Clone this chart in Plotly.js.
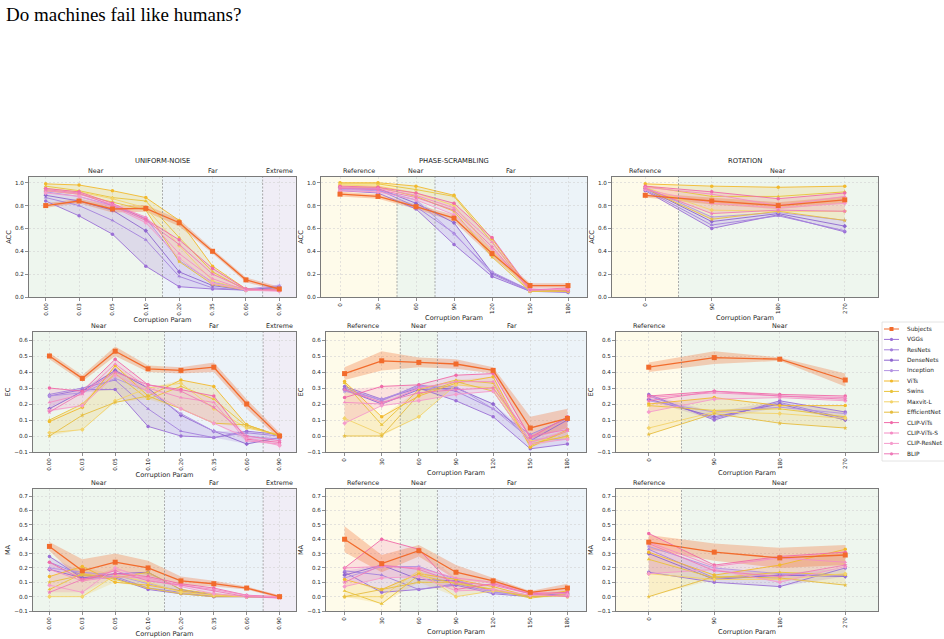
<!DOCTYPE html>
<html><head><meta charset="utf-8">
<script src="https://cdn.plot.ly/plotly-3.0.1.min.js"></script>
<style>html,body{margin:0;padding:0;background:#fff}#chart{width:944px;height:639px}</style>
</head><body><div id="chart"></div>
<script>
// ---------------- DATA ----------------
const models = ['Subjects','VGGs','ResNets','DenseNets','Inception','ViTs','Swins','Maxvit-L','EfficientNet','CLIP-ViTs','CLIP-ViTs-S','CLIP-ResNet','BLIP'];
const modelFamily = ['human','cnn','cnn','cnn','cnn','tr','tr','tr','tr','clip','clip','clip','clip'];

const noiseLevels = ['0.00','0.03','0.05','0.10','0.20','0.35','0.60','0.90'];
const phaseLevels = ['0','30','60','90','120','150','180'];
const rotationLevels = ['0','90','180','270'];

const noiseRegionNames = ['Near','Far','Extreme'];
const noiseRegionCounts = [4,3,1];
const phaseRegionNames = ['Reference','Near','Far'];
const phaseRegionCounts = [2,1,4];
const rotationRegionNames = ['Reference','Near'];
const rotationRegionCounts = [1,3];

// rows follow the order of `models`
const noiseACC = [
 [0.80,0.84,0.77,0.775,0.65,0.40,0.15,0.07],
 [0.84,0.71,0.55,0.27,0.09,0.07,0.06,0.07],
 [0.87,0.80,0.67,0.50,0.18,0.08,0.06,0.08],
 [0.89,0.84,0.76,0.58,0.22,0.10,0.06,0.09],
 [0.92,0.88,0.80,0.69,0.32,0.13,0.07,0.10],
 [0.99,0.98,0.93,0.87,0.67,0.27,0.07,0.06],
 [0.97,0.93,0.87,0.84,0.52,0.22,0.06,0.06],
 [0.95,0.92,0.86,0.78,0.45,0.14,0.06,0.06],
 [0.93,0.90,0.83,0.76,0.31,0.11,0.06,0.07],
 [0.95,0.92,0.82,0.68,0.50,0.25,0.07,0.06],
 [0.93,0.90,0.81,0.70,0.38,0.16,0.06,0.06],
 [0.91,0.88,0.79,0.65,0.34,0.12,0.06,0.05],
 [0.94,0.91,0.80,0.67,0.46,0.20,0.07,0.06]
];
const phaseACC = [
 [0.90,0.88,0.79,0.69,0.38,0.10,0.10],
 [0.93,0.91,0.77,0.46,0.18,0.05,0.04],
 [0.95,0.94,0.79,0.56,0.20,0.05,0.05],
 [0.96,0.95,0.82,0.65,0.21,0.06,0.05],
 [0.94,0.93,0.85,0.55,0.22,0.06,0.06],
 [1.00,1.00,0.97,0.89,0.51,0.06,0.07],
 [0.99,0.99,0.94,0.88,0.48,0.05,0.06],
 [0.98,0.97,0.91,0.80,0.40,0.05,0.05],
 [0.96,0.96,0.88,0.75,0.35,0.05,0.05],
 [0.97,0.96,0.91,0.82,0.52,0.07,0.06],
 [0.96,0.95,0.89,0.78,0.48,0.06,0.07],
 [0.93,0.92,0.85,0.72,0.42,0.06,0.07],
 [0.95,0.94,0.87,0.76,0.44,0.06,0.08]
];
const rotationACC = [
 [0.89,0.84,0.80,0.85],
 [0.93,0.60,0.72,0.57],
 [0.94,0.63,0.71,0.58],
 [0.95,0.66,0.73,0.62],
 [0.96,0.70,0.74,0.67],
 [0.99,0.97,0.96,0.97],
 [0.97,0.88,0.88,0.92],
 [0.96,0.76,0.75,0.75],
 [0.95,0.68,0.75,0.67],
 [0.97,0.92,0.86,0.91],
 [0.96,0.90,0.80,0.88],
 [0.94,0.82,0.78,0.82],
 [0.95,0.73,0.76,0.75]
];
const noiseEC = [
 [0.50,0.36,0.53,0.42,0.41,0.43,0.20,0.00],
 [0.25,0.29,0.29,0.06,0.00,-0.01,0.03,0.01],
 [0.26,0.30,0.35,0.17,0.03,-0.01,0.02,0.00],
 [0.17,0.28,0.41,0.30,0.13,0.03,-0.05,-0.01],
 [0.25,0.27,0.36,0.28,0.14,0.03,0.00,-0.02],
 [0.09,0.18,0.44,0.25,0.35,0.31,0.07,0.00],
 [0.10,0.20,0.39,0.23,0.31,0.23,0.06,0.00],
 [0.02,0.04,0.22,0.30,0.33,0.17,0.05,0.01],
 [0.00,0.13,0.21,0.25,0.17,0.08,0.07,0.00],
 [0.30,0.28,0.48,0.32,0.29,0.25,-0.02,-0.04],
 [0.21,0.26,0.45,0.30,0.24,0.21,-0.03,-0.05],
 [0.16,0.19,0.38,0.28,0.17,0.08,-0.01,-0.06],
 [0.15,0.27,0.40,0.32,0.28,0.18,0.00,-0.03]
];
const phaseEC = [
 [0.39,0.47,0.46,0.45,0.41,0.05,0.11],
 [0.31,0.23,0.30,0.22,0.12,-0.08,-0.05],
 [0.30,0.22,0.32,0.28,0.17,0.01,0.11],
 [0.29,0.20,0.29,0.30,0.20,-0.03,0.10],
 [0.28,0.23,0.31,0.31,0.17,-0.02,-0.02],
 [0.34,0.12,0.25,0.33,0.37,-0.07,0.04],
 [0.33,0.07,0.29,0.35,0.33,-0.06,0.03],
 [0.11,0.01,0.12,0.32,0.30,-0.03,-0.01],
 [0.00,0.00,0.26,0.34,0.28,-0.05,0.00],
 [0.24,0.31,0.32,0.38,0.39,-0.01,0.12],
 [0.21,0.20,0.30,0.34,0.34,-0.04,0.03],
 [0.08,0.19,0.22,0.26,0.28,-0.05,-0.02],
 [0.29,0.21,0.27,0.29,0.30,0.00,0.04]
];
const rotationEC = [
 [0.43,0.49,0.48,0.35],
 [0.26,0.10,0.22,0.15],
 [0.25,0.11,0.21,0.11],
 [0.23,0.12,0.20,0.10],
 [0.22,0.15,0.18,0.14],
 [0.20,0.24,0.19,0.19],
 [0.19,0.16,0.17,0.12],
 [0.05,0.15,0.14,0.11],
 [0.01,0.14,0.08,0.05],
 [0.25,0.28,0.26,0.25],
 [0.24,0.27,0.25,0.24],
 [0.15,0.23,0.24,0.22],
 [0.22,0.28,0.25,0.23]
];
const noiseMA = [
 [0.35,0.18,0.24,0.20,0.11,0.09,0.06,0.00],
 [0.28,0.13,0.13,0.05,0.02,0.00,0.00,0.00],
 [0.24,0.15,0.14,0.06,0.03,0.00,0.00,0.00],
 [0.19,0.13,0.16,0.17,0.05,0.01,0.00,0.00],
 [0.20,0.17,0.15,0.09,0.04,0.01,0.00,0.00],
 [0.14,0.21,0.10,0.08,0.04,0.01,0.00,0.00],
 [0.05,0.16,0.12,0.06,0.02,0.00,0.00,0.00],
 [0.00,0.00,0.15,0.10,0.03,0.01,0.00,0.00],
 [0.10,0.15,0.13,0.17,0.05,0.02,0.00,0.00],
 [0.24,0.12,0.16,0.14,0.09,0.06,0.01,0.00],
 [0.19,0.11,0.14,0.13,0.08,0.05,0.01,-0.01],
 [0.08,0.03,0.20,0.12,0.07,0.02,0.00,0.00],
 [0.03,0.12,0.18,0.11,0.08,0.04,0.00,-0.01]
];
const phaseMA = [
 [0.40,0.23,0.32,0.17,0.11,0.03,0.06],
 [0.17,0.03,0.05,0.08,0.02,0.00,0.01],
 [0.18,0.15,0.05,0.09,0.03,0.01,0.02],
 [0.15,0.22,0.12,0.11,0.04,0.01,0.02],
 [0.13,0.21,0.21,0.12,0.03,0.01,0.03],
 [0.12,0.05,0.16,0.12,0.07,0.00,0.04],
 [0.04,-0.05,0.15,0.09,0.05,-0.01,0.02],
 [0.00,0.00,0.18,0.00,0.04,0.01,0.00],
 [0.00,0.05,0.10,0.10,0.05,0.00,0.01],
 [0.20,0.40,0.33,0.05,0.09,0.02,0.03],
 [0.20,0.21,0.20,0.13,0.10,0.03,0.02],
 [0.07,0.13,0.14,0.04,0.05,0.01,0.01],
 [0.10,0.22,0.19,0.10,0.08,0.02,0.00]
];
const rotationMA = [
 [0.38,0.31,0.27,0.29],
 [0.17,0.10,0.07,0.20],
 [0.33,0.13,0.15,0.15],
 [0.30,0.12,0.15,0.14],
 [0.35,0.20,0.16,0.15],
 [0.31,0.15,0.22,0.33],
 [0.26,0.13,0.17,0.15],
 [0.16,0.12,0.12,0.16],
 [0.00,0.14,0.13,0.08],
 [0.44,0.22,0.28,0.31],
 [0.38,0.21,0.27,0.24],
 [0.16,0.19,0.10,0.21],
 [0.37,0.18,0.14,0.22]
];
// spread (half width) of the human subjects band
const noiseACCSpread = [0.02,0.02,0.03,0.03,0.03,0.02,0.02,0.02];
const phaseACCSpread = [0.02,0.02,0.02,0.03,0.03,0.02,0.02];
const rotationACCSpread = [0.02,0.03,0.03,0.03];
const noiseECSpread = [0.02,0.02,0.03,0.02,0.02,0.03,0.03,0.02];
const phaseECSpread = [0.04,0.06,0.03,0.03,0.02,0.07,0.06];
const rotationECSpread = [0.03,0.04,0.01,0.04];
const noiseMASpread = [0.03,0.08,0.06,0.05,0.03,0.02,0.01,0.01];
const phaseMASpread = [0.09,0.06,0.04,0.05,0.02,0.01,0.03];
const rotationMASpread = [0.05,0.06,0.07,0.07];

// ---------------- STYLE ----------------
const modelColors = ['#f26b2c','#9b6fd6','#a481dc','#8e66cf','#b393e3','#f2b92c','#e9c33a','#f3d36a','#e6bd3f','#f06aa8','#f48cc4','#f59bcc','#ee7ab8'];
const modelSymbols = ['square','circle','triangle-up','diamond','star','circle','triangle-up','diamond','star','circle','triangle-up','diamond','star'];
const familyFill = {cnn:'rgba(155,111,214,0.20)', tr:'rgba(234,190,50,0.18)', clip:'rgba(240,110,170,0.18)'};
const humanFill = 'rgba(242,107,44,0.30)';
const regionColors = {Reference:'#fefbea', Near:'#eef6ee', Far:'#ecf3f8', Extreme:'#f0edf6'};

const W = 944, H = 639;
const rowsPx = [[177,297],[332,452],[489,611]];
const colsPx = [
 [[29,296],[321,587],[612,878]],
 [[33,296],[326,586],[616,878]],
 [[33,296],[326,586],[616,878]]
];
const yRanges = {ACC:[0,1.05], EC:[-0.1,0.65], MA:[-0.1,0.75]};
const yDtick = {ACC:0.2, EC:0.1, MA:0.1};
const colTitles = ['UNIFORM-NOISE','PHASE-SCRAMBLING','ROTATION'];
const colLevels = [noiseLevels, phaseLevels, rotationLevels];
const colRegionNames = [noiseRegionNames, phaseRegionNames, rotationRegionNames];
const colRegionCounts = [noiseRegionCounts, phaseRegionCounts, rotationRegionCounts];
const metrics = ['ACC','EC','MA'];
const grid = [
 [noiseACC, phaseACC, rotationACC],
 [noiseEC, phaseEC, rotationEC],
 [noiseMA, phaseMA, rotationMA]
];
const spreads = [
 [noiseACCSpread, phaseACCSpread, rotationACCSpread],
 [noiseECSpread, phaseECSpread, rotationECSpread],
 [noiseMASpread, phaseMASpread, rotationMASpread]
];

const px = x => x / W;
const py = y => 1 - y / H;
const FONT = 'DejaVu Sans, sans-serif';
const TXT = '#262626';

const traces = [], shapes = [], annotations = [];
const layout = {
  width: W, height: H,
  margin: {l:0, r:0, t:0, b:0},
  paper_bgcolor: '#ffffff', plot_bgcolor: '#ffffff',
  showlegend: false,
  font: {family: FONT, size: 6, color: TXT},
  title: {text: 'Do machines fail like humans?', x: 6/W, xanchor: 'left', xref: 'paper',
          y: 1 - 14/H, yref: 'container', yanchor: 'middle',
          font: {family: 'Liberation Serif, Times New Roman, serif', size: 19, color: '#000'}}
};

function polygon(xs, upper, lower) {
  return {x: xs.concat(xs.slice().reverse()), y: upper.concat(lower.slice().reverse())};
}

for (let r = 0; r < 3; r++) {
  for (let c = 0; c < 3; c++) {
    const k = r * 3 + c + 1;
    const xa = 'x' + (k === 1 ? '' : k), ya = 'y' + (k === 1 ? '' : k);
    const xName = 'xaxis' + (k === 1 ? '' : k), yName = 'yaxis' + (k === 1 ? '' : k);
    const levels = colLevels[c];
    const n = levels.length;
    const idx = levels.map((_, i) => i);
    const vals = grid[r][c];
    const spread = spreads[r][c];
    const [x0p, x1p] = colsPx[r][c];
    const [y0p, y1p] = rowsPx[r];
    const metric = metrics[r];

    const common = {
      showgrid: true, gridcolor: '#d2d2d2', griddash: '2px,2px', gridwidth: 0.6,
      showline: true, linecolor: '#7a7a7a', linewidth: 1, mirror: true,
      ticks: 'outside', ticklen: 3, tickcolor: '#444', tickwidth: 0.6,
      tickfont: {size: 5.6, color: TXT, family: FONT}, zeroline: false
    };
    layout[xName] = Object.assign({
      domain: [px(x0p), px(x1p)], anchor: ya, range: [-0.5, n - 0.5],
      tickmode: 'array', tickvals: idx, ticktext: levels, tickangle: -90,
      title: {text: 'Corruption Param', font: {size: 6.6, color: TXT, family: FONT}, standoff: 2}
    }, common);
    layout[yName] = Object.assign({
      domain: [py(y1p), py(y0p)], anchor: xa, range: yRanges[metric],
      dtick: yDtick[metric], tick0: 0, tickformat: '.1f',
      title: {text: metric, font: {size: 6.6, color: TXT, family: FONT}, standoff: 2}
    }, common);

    // region backgrounds + labels
    let start = 0;
    colRegionNames[c].forEach((name, j) => {
      const cnt = colRegionCounts[c][j];
      const a = start - 0.5, b = start + cnt - 0.5;
      shapes.push({type: 'rect', xref: xa, yref: ya + ' domain', x0: a, x1: b, y0: 0, y1: 1,
                   fillcolor: regionColors[name], line: {width: 0}, layer: 'below'});
      if (j > 0) {
        shapes.push({type: 'line', xref: xa, yref: ya + ' domain', x0: a, x1: a, y0: 0, y1: 1,
                     line: {color: '#8a8a8a', width: 0.7, dash: '2px,1.5px'}, layer: 'above'});
      }
      annotations.push({text: name, xref: xa, yref: 'paper', x: (a + b) / 2, y: py(y0p - 6),
                        xanchor: 'center', yanchor: 'middle', showarrow: false,
                        font: {size: 6.4, color: TXT, family: FONT}});
      start += cnt;
    });
    if (r === 0) {
      annotations.push({text: colTitles[c], xref: 'paper', yref: 'paper', x: px((x0p + x1p) / 2), y: py(161),
                        xanchor: 'center', yanchor: 'middle', showarrow: false,
                        font: {size: 6.8, color: '#1a1a1a', family: FONT}});
    }

    // family bands (envelope of each family's series)
    ['cnn', 'tr', 'clip'].forEach(fam => {
      const rows = vals.filter((_, m) => modelFamily[m] === fam);
      const up = idx.map(i => Math.max(...rows.map(s => s[i])));
      const lo = idx.map(i => Math.min(...rows.map(s => s[i])));
      const p = polygon(idx, up, lo);
      traces.push({type: 'scatter', mode: 'lines', x: p.x, y: p.y, xaxis: xa, yaxis: ya,
                   fill: 'toself', fillcolor: familyFill[fam], line: {width: 0}, hoverinfo: 'skip'});
    });
    // human band
    const hu = vals[0].map((v, i) => v + spread[i]);
    const hl = vals[0].map((v, i) => v - spread[i]);
    const hp = polygon(idx, hu, hl);
    traces.push({type: 'scatter', mode: 'lines', x: hp.x, y: hp.y, xaxis: xa, yaxis: ya,
                 fill: 'toself', fillcolor: humanFill, line: {width: 0}, hoverinfo: 'skip'});

    // model lines (subjects last so it sits on top)
    const order = models.map((_, m) => m).slice(1).concat([0]);
    order.forEach(m => {
      const human = m === 0;
      traces.push({type: 'scatter', mode: 'lines+markers', name: models[m], x: idx, y: vals[m],
                   xaxis: xa, yaxis: ya, cliponaxis: false,
                   line: {color: modelColors[m], width: human ? 1.3 : 0.9},
                   marker: {color: modelColors[m], symbol: modelSymbols[m], size: human ? 5 : 3.5}});
    });
  }
}

// legend (drawn from the model list)
const legTop = 329, legStep = 10.4;
shapes.push({type: 'rect', xref: 'paper', yref: 'paper', x0: px(882), x1: px(950), y0: py(461), y1: py(322),
             line: {color: '#dddddd', width: 0.8}, fillcolor: 'rgba(255,255,255,0.8)', layer: 'above'});
models.forEach((name, m) => {
  const yy = legTop + legStep * m;
  shapes.push({type: 'line', xref: 'paper', yref: 'paper', x0: px(884), x1: px(899), y0: py(yy), y1: py(yy),
               line: {color: modelColors[m], width: 1}, layer: 'above'});
  const s = m === 0 ? 2 : 1.6;
  shapes.push({type: m === 0 ? 'rect' : 'circle', xref: 'paper', yref: 'paper',
               x0: px(891.5 - s), x1: px(891.5 + s), y0: py(yy + s), y1: py(yy - s),
               fillcolor: modelColors[m], line: {width: 0}, layer: 'above'});
  annotations.push({text: name, xref: 'paper', yref: 'paper', x: px(905), y: py(yy), xanchor: 'left', yanchor: 'middle',
                    showarrow: false, font: {size: 5.8, color: TXT, family: FONT}});
});

layout.shapes = shapes;
layout.annotations = annotations;
Plotly.newPlot('chart', traces, layout, {staticPlot: true, displayModeBar: false});
</script>
</body></html>
